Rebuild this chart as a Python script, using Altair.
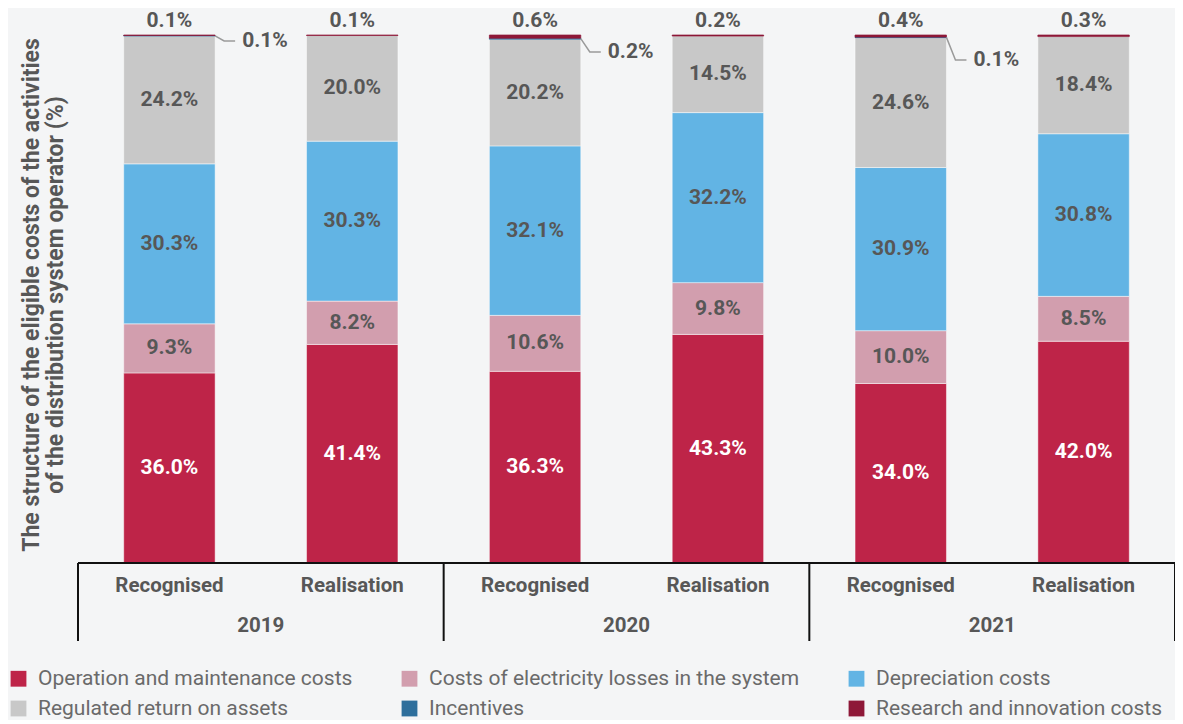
import altair as alt
import pandas as pd

# ---------------- data ----------------
years = ["2019", "2019", "2020", "2020", "2021", "2021"]
kinds = ["Recognised", "Realisation", "Recognised", "Realisation", "Recognised", "Realisation"]

segments = [
    "Operation and maintenance costs",
    "Costs of electricity losses in the system",
    "Depreciation costs",
    "Regulated return on assets",
    "Incentives",
    "Research and innovation costs",
]
operation = [36.0, 41.4, 36.3, 43.3, 34.0, 42.0]
losses = [9.3, 8.2, 10.6, 9.8, 10.0, 8.5]
depreciation = [30.3, 30.3, 32.1, 32.2, 30.9, 30.8]
regulated = [24.2, 20.0, 20.2, 14.5, 24.6, 18.4]
incentives = [0.1, 0.0, 0.2, 0.0, 0.1, 0.0]
research = [0.1, 0.1, 0.6, 0.2, 0.4, 0.3]
series = [operation, losses, depreciation, regulated, incentives, research]

colors = ["#be2448", "#d29eae", "#62b4e4", "#c8c8c8", "#2e6f9c", "#8e1838"]

y_title = "The structure of the eligible costs of the activities\nof the distribution system operator (%)"

# ---------------- layout constants ----------------
W, H = 1097, 640
PX = 528 / 100.0          # pixels per percentage point
U = 1 / PX                # percentage points per pixel
SLOT = W / 6.0            # pixels per bar slot
Y_MIN, Y_MAX = -85 * U, 555 * U
leader_drop_px = {0: 6, 2: 17, 4: 25}
FONT = "Roboto"
TXT = "#575757"

# ---------------- derived tables ----------------
rows = []
for i in range(6):
    cum = 0.0
    for s, vals in zip(segments, series):
        v = vals[i]
        rows.append(dict(idx=i, x0=i + 0.25, x1=i + 0.75, xc=i + 0.5, seg=s,
                         y0=cum, y1=cum + v, ymid=cum + v / 2, value=v,
                         label=f"{v:.1f}%"))
        cum += v
df = pd.DataFrame(rows)
main = df[df.seg.isin(segments[:4])].copy()
main["tcolor"] = ["#ffffff" if s == segments[0] else TXT for s in main.seg]
thin = df[df.seg.isin(segments[4:]) & (df.value > 0)].copy()

tops = df[df.seg == segments[5]].copy()
tops["ty"] = tops.y1 + 14 * U

lead_pts, lead_txt = [], []
for _, r in df[(df.seg == segments[4]) & (df.value > 0)].iterrows():
    i = int(r.idx)
    top = df[(df.idx == i)].y1.max()
    yl = top - leader_drop_px[i] * U
    lead_pts += [dict(idx=i, o=0, x=r.x1, y=r.ymid),
                 dict(idx=i, o=1, x=r.x1 + 9 / SLOT, y=yl),
                 dict(idx=i, o=2, x=r.x1 + 20 / SLOT, y=yl)]
    lead_txt.append(dict(idx=i, x=r.x1 + 27 / SLOT, y=yl, label=r.label))
lead_pts = pd.DataFrame(lead_pts)
lead_txt = pd.DataFrame(lead_txt)

cats = pd.DataFrame(dict(x=[i + 0.5 for i in range(6)], y=[-23 * U] * 6, label=kinds))
yrs = pd.DataFrame(dict(x=[1.0, 3.0, 5.0], y=[-63 * U] * 3, label=years[::2]))
seps = pd.DataFrame(dict(x=[0.0, 2.0, 4.0, 6.0], y=[0.0] * 4, y2=[-78 * U] * 4))
base_line = pd.DataFrame(dict(x=[0.0], x2=[6.0], y=[0.0]))
title_df = pd.DataFrame(dict(t=[y_title]))

xs = alt.Scale(domain=[0, 6], nice=False, zero=False)
ys = alt.Scale(domain=[Y_MIN, Y_MAX], nice=False, zero=False)
cs = alt.Scale(domain=segments, range=colors)

bars = alt.Chart(main).mark_bar(stroke="#ffffff", strokeWidth=0.8, strokeOpacity=0.6).encode(
    x=alt.X("x0:Q", scale=xs, axis=None), x2="x1:Q",
    y=alt.Y("y0:Q", scale=ys, axis=None), y2="y1:Q",
    color=alt.Color("seg:N", scale=cs, sort=segments, title=None,
                    legend=alt.Legend(orient="none", legendX=-70, legendY=660,
                                      direction="horizontal",
                                      columns=3, columnPadding=46, rowPadding=8,
                                      symbolType="square", symbolSize=250,
                                      symbolStrokeWidth=0, labelFont=FONT,
                                      labelFontSize=21, labelColor="#6a6a6a",
                                      labelLimit=600, symbolOffset=0,
                                      labelOffset=9)),
)
thin_bars = alt.Chart(thin).mark_bar(strokeWidth=0.7).encode(
    x=alt.X("x0:Q", scale=xs), x2="x1:Q",
    y=alt.Y("y0:Q", scale=ys), y2="y1:Q",
    color=alt.Color("seg:N", scale=cs, legend=None),
    stroke=alt.Stroke("seg:N", scale=cs, legend=None),
)
labels = alt.Chart(main).mark_text(font=FONT, fontSize=21, fontWeight="bold",
                                   baseline="middle").encode(
    x=alt.X("xc:Q", scale=xs), y=alt.Y("ymid:Q", scale=ys), text="label:N",
    color=alt.Color("tcolor:N", scale=None),
)
top_labels = alt.Chart(tops).mark_text(font=FONT, fontSize=21, fontWeight="bold",
                                       baseline="middle", color=TXT).encode(
    x=alt.X("xc:Q", scale=xs), y=alt.Y("ty:Q", scale=ys), text="label:N")
leaders = alt.Chart(lead_pts).mark_line(color="#9a9a9a", strokeWidth=1.5).encode(
    x=alt.X("x:Q", scale=xs), y=alt.Y("y:Q", scale=ys), detail="idx:N", order="o:Q")
leader_labels = alt.Chart(lead_txt).mark_text(font=FONT, fontSize=21, fontWeight="bold",
                                              baseline="middle", align="left",
                                              color=TXT).encode(
    x=alt.X("x:Q", scale=xs), y=alt.Y("y:Q", scale=ys), text="label:N")
cat_labels = alt.Chart(cats).mark_text(font=FONT, fontSize=20.5, fontWeight="bold",
                                       baseline="middle", color=TXT).encode(
    x=alt.X("x:Q", scale=xs), y=alt.Y("y:Q", scale=ys), text="label:N")
yr_labels = alt.Chart(yrs).mark_text(font=FONT, fontSize=20.5, fontWeight="bold",
                                     baseline="middle", color=TXT).encode(
    x=alt.X("x:Q", scale=xs), y=alt.Y("y:Q", scale=ys), text="label:N")
sep_rules = alt.Chart(seps).mark_rule(color="#111111", strokeWidth=2).encode(
    x=alt.X("x:Q", scale=xs), y=alt.Y("y:Q", scale=ys), y2="y2:Q")
axis_line = alt.Chart(base_line).mark_rule(color="#111111", strokeWidth=2).encode(
    x=alt.X("x:Q", scale=xs), x2="x2:Q", y=alt.Y("y:Q", scale=ys))
title = alt.Chart(title_df).mark_text(font=FONT, fontSize=23, fontWeight="bold",
                                      angle=270, align="center", baseline="middle",
                                      lineBreak="\n", lineHeight=24, color=TXT).encode(
    x=alt.value(-46.5), y=alt.value(287), text="t:N")

chart = alt.layer(
    bars, thin_bars, labels, top_labels, leaders, leader_labels,
    cat_labels, yr_labels, sep_rules, axis_line, title,
).properties(
    width=W, height=H,
    autosize=alt.AutoSizeParams(type="none"),
    padding={"left": 70, "top": 0, "right": 0, "bottom": 72},
    background="#f4f5f6",
).configure_view(stroke=None)

chart.save("out.html", embed_options={"renderer": "svg", "actions": False})
